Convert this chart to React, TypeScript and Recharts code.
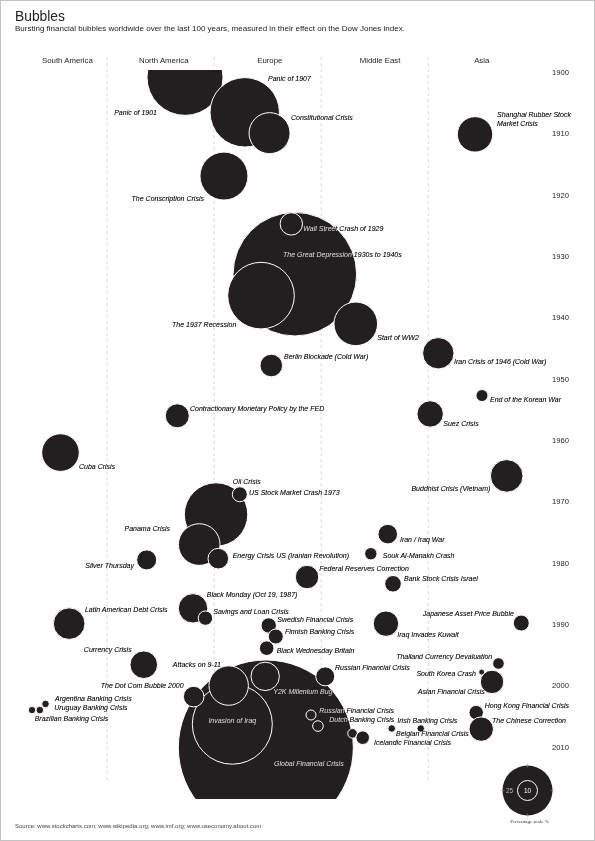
import React from "react";
import { ScatterChart, Scatter, XAxis, YAxis, ReferenceLine, CartesianGrid } from "recharts";

// regions along the top, as tick positions on the x scale (1 unit = one region column)
const regions = ["South America", "North America", "Europe", "Middle East", "Asia"];
const regionTicks = [0.63, 1.53, 2.52, 3.55, 4.5];
const regionBorders = [1, 2, 3, 4];

const yearTicks = [1900, 1910, 1920, 1930, 1940, 1950, 1960, 1970, 1980, 1990, 2000, 2010];

const crises = [
  "Panic of 1901", "Panic of 1907", "Constitutional Crisis", "Shanghai Rubber Stock\nMarket Crisis",
  "The Conscription Crisis", "The Great Depression 1930s to 1940s", "Wall Street Crash of 1929",
  "The 1937 Recession", "Start of WW2", "Berlin Blockade (Cold War)", "Iran Crisis of 1946 (Cold War)",
  "End of the Korean War", "Suez Crisis", "Contractionary Monetary Policy by the FED", "Cuba Crisis",
  "Buddhist Crisis (Vietnam)", "Oil Crisis", "US Stock Market Crash 1973", "Panama Crisis",
  "Energy Crisis US (Iranian Revolution)", "Silver Thursday", "Iran / Iraq War", "Souk Al-Manakh Crash",
  "Federal Reserves Correction", "Bank Stock Crisis Israel", "Black Monday (Oct 19, 1987)",
  "Savings and Loan Crisis", "Latin American Debt Crisis", "Swedish Financial Crisis",
  "Finnish Banking Crisis", "Black Wednesday Britain", "Iraq Invades Kuwait", "Japanese Asset Price Bubble",
  "Currency Crisis", "Thailand Currency Devaluation", "South Korea Crash", "Asian Financial Crisis",
  "Global Financial Crisis", "Invasion of Iraq", "Attacks on 9-11", "Y2K Millenium Bug",
  "The Dot Com Bubble 2000", "Russian Financial Crisis", "Russian Financial Crisis", "Dutch Banking Crisis",
  "", "Icelandic Financial Crisis", "Belgian Financial Crisis", "Irish Banking Crisis",
  "Hong Kong Financial Crisis", "The Chinese Correction", "Argentina Banking Crisis",
  "Uruguay Banking Crisis", "Brazilian Banking Crisis",
];

const region = [
  1.728, 2.286, 2.518, 4.437, 2.092, 2.754, 2.721, 2.438, 3.323, 2.534, 4.094, 4.502, 4.018, 1.656,
  0.565, 4.733, 2.018, 2.24, 1.861, 2.039, 1.37, 3.622, 3.464, 2.868, 3.671, 1.803, 1.919, 0.646,
  2.51, 2.576, 2.491, 3.605, 4.869, 1.343, 4.656, 4.499, 4.596, 2.483, 2.17, 2.136, 2.477, 1.809,
  3.038, 2.905, 2.97, 3.293, 3.388, 3.659, 3.93, 4.448, 4.495, 0.425, 0.372, 0.299,
];

const years = [
  1900.8, 1906.5, 1909.9, 1910.1, 1916.9, 1932.9, 1924.7, 1936.4, 1941.0, 1947.8, 1945.8, 1952.7,
  1955.7, 1956.0, 1962.0, 1965.8, 1972.1, 1968.8, 1977.0, 1979.3, 1979.5, 1975.3, 1978.5, 1982.3,
  1983.4, 1987.4, 1989.0, 1989.9, 1990.2, 1992.0, 1993.9, 1989.9, 1989.8, 1996.6, 1996.4, 1997.8,
  1999.4, 2010.1, 2006.3, 2000.0, 1998.5, 2001.8, 1998.5, 2004.8, 2006.6, 2007.8, 2008.5, 2007.0,
  2007.0, 2004.4, 2007.1, 2003.0, 2004.0, 2004.0,
];

// effect on the Dow Jones, %
const impact = [
  38, 34.7, 20.5, 17.7, 24, 61.8, 11.2, 33.3, 21.8, 11.3, 15.7, 6, 13.2, 12, 18.8, 16.3, 31.7, 7.5,
  20.8, 10.3, 10, 9.8, 6.2, 11.7, 8.3, 14.7, 7.2, 15.8, 7.7, 7.5, 7.3, 12.7, 8, 13.8, 5.8, 3, 11.7,
  87.5, 40, 19.7, 14.2, 10.3, 9.5, 5, 5.3, 4.8, 6.8, 3.8, 3.8, 7.2, 12.2, 3.8, 3.8, 3.7,
];

const scaleValues = [25, 10];

// label placement relative to bubble centre: dx, dy, anchor
const labelSpots: [number, number, string][] = [
  [-28, 38, "end"], [23.3, -31.4, "start"], [21.4, -12.8, "start"], [22, -17.3, "start"],
  [-20, 25, "end"], [-11.8, -16.7, "start"], [12, 7.2, "start"], [-24.7, 31.3, "end"],
  [21.5, 16.3, "start"], [12.7, -6.2, "start"], [15.7, 10.7, "start"], [8, 6.7, "start"],
  [13.1, 12.3, "start"], [12.7, -4.5, "start"], [18.5, 16.5, "start"], [-16.4, 15.3, "end"],
  [16.7, -30.2, "start"], [9.2, 0.7, "start"], [-29.2, -13.5, "end"], [14.4, -0.3, "start"],
  [-12.7, 8.3, "end"], [12.2, 8.2, "start"], [11.9, 4.7, "start"], [12.3, -6, "start"],
  [11, -2.7, "start"], [13.7, -11, "start"], [7.8, -3.7, "start"], [15.8, -11.5, "start"],
  [8.6, -3.5, "start"], [9.2, -2.2, "start"], [10, 5.2, "start"], [11.3, 13.5, "start"],
  [-7.3, -7, "end"], [-12.1, -12.8, "end"], [-6.2, -4.5, "end"], [-5.7, 4.2, "end"],
  [-7.3, 12.3, "end"], [8.2, 18.5, "start"], [0, -1, "middle"], [-7.7, -18.5, "end"],
  [8.1, 18, "start"], [-10, -8.2, "end"], [9.8, -6.8, "start"], [8.3, -2, "start"],
  [11.3, -4.5, "start"], [0, 0, "start"], [11.3, 7.5, "start"], [4.3, 7.7, "start"],
  [-23.4, -5, "start"], [8.5, -4.2, "start"], [10.8, -6.2, "start"], [9.5, -3.3, "start"],
  [14.5, -0.2, "start"], [2.7, 11.3, "start"],
];

const bubbles = crises.map((name, i) => ({
  id: i,
  name,
  region: region[i],
  year: years[i],
  impact: impact[i],
}));

const W = 595;
const H = 841;
const M = { top: 50, right: 0, bottom: 42, left: 0 };
const X_AXIS_H = 20;
const Y_AXIS_W = 49;
const PX_PER_PCT = 1;
const INK = "#231f20";
const FONT = "'Liberation Sans', Arial, Helvetica, sans-serif";

const Bubble = (props: any) => {
  const { cx, cy, payload } = props;
  return (
    <circle
      cx={cx}
      cy={cy}
      r={payload.impact * PX_PER_PCT}
      fill={INK}
      stroke="#fff"
      strokeWidth={1}
      clipPath="url(#plotClip)"
    />
  );
};

const BubbleLabel = (props: any) => {
  const { cx, cy, payload } = props;
  const spot = labelSpots[payload.id];
  if (!payload.name || !spot) return <g />;
  const lines = String(payload.name).split("\n");
  const x = cx + spot[0];
  return (
    <text
      x={x}
      y={cy + spot[1]}
      textAnchor={spot[2] as any}
      fontSize={7}
      fontStyle="italic"
      fontFamily={FONT}
      fill="#fff"
      style={{ mixBlendMode: "difference" }}
    >
      {lines.map((l, i) => (
        <tspan key={i} x={x} dy={i ? 8.6 : 0}>
          {l}
        </tspan>
      ))}
    </text>
  );
};

export default function App() {
  const plotTop = M.top + X_AXIS_H;
  const plotBottom = H - M.bottom;
  const plotRight = W - M.right - Y_AXIS_W;
  const legendR = scaleValues.map((v) => v * PX_PER_PCT);
  const lx = 527.5;
  const ly = 790.5;

  return (
    <div
      style={{
        position: "relative",
        width: W,
        height: H,
        background: "#fff",
        boxSizing: "border-box",
        border: "1px solid #c4c4c4",
        overflow: "hidden",
      }}
    >
      <style>{"body{margin:0}"}</style>
      <svg width={0} height={0} style={{ position: "absolute" }}>
        <defs>
          <clipPath id="plotClip" clipPathUnits="userSpaceOnUse">
            <rect x={M.left} y={plotTop} width={plotRight - M.left} height={plotBottom - plotTop} />
          </clipPath>
        </defs>
      </svg>
      <div style={{ position: "absolute", left: -1, top: -1 }}>
        <ScatterChart width={W} height={H} margin={M}>
          <CartesianGrid horizontal={false} vertical={false} fill="#fff" />
          <XAxis
            xAxisId={0}
            type="number"
            dataKey="region"
            orientation="top"
            domain={[0, 5.1]}
            ticks={regionTicks}
            interval={0}
            height={X_AXIS_H}
            tickLine={false}
            axisLine={false}
            tickMargin={1}
            tickFormatter={(v: number) => regions[regionTicks.indexOf(v)] ?? ""}
            tick={{ fontSize: 7.8, fill: "#222", fontFamily: FONT }}
          />
          <YAxis
            yAxisId={0}
            type="number"
            dataKey="year"
            orientation="right"
            reversed
            domain={[1899.6, 2018.5]}
            ticks={yearTicks}
            interval={0}
            width={Y_AXIS_W}
            tickLine={false}
            axisLine={false}
            tickMargin={0}
            tick={{ fontSize: 7.6, fill: "#222", fontFamily: FONT }}
          />
          {regionBorders.map((b) => (
            <ReferenceLine
              key={b}
              segment={[
                { x: b, y: 1897.5 },
                { x: b, y: 2015.9 },
              ]}
              ifOverflow="visible"
              stroke="#c8c8c8"
              strokeWidth={0.7}
              strokeDasharray="3 3"
            />
          ))}
          <Scatter data={bubbles} shape={Bubble} isAnimationActive={false} />
          <Scatter data={bubbles} shape={BubbleLabel} isAnimationActive={false} />
        </ScatterChart>
      </div>
      <svg
        width={W}
        height={H}
        style={{ position: "absolute", left: -1, top: -1, pointerEvents: "none" }}
        fontFamily={FONT}
      >
        <text x={15} y={20.5} fontSize={13.8} fill="#222">
          Bubbles
        </text>
        <text x={15} y={30.8} fontSize={8} fill="#222">
          Bursting financial bubbles worldwide over the last 100 years, measured in their effect on the Dow Jones index.
        </text>
        <text x={15} y={827.5} fontSize={6} fill="#444">
          Source: www.stockcharts.com; www.wikipedia.org; www.imf.org; www.useconomy.about.com
        </text>
        {/* percentage scale */}
        <circle cx={lx} cy={ly} r={legendR[0]} fill={INK} />
        <line x1={lx} x2={lx} y1={ly - legendR[0] - 2} y2={ly - legendR[0] + 2} stroke="#999" strokeWidth={0.5} />
        <line x1={lx} x2={lx} y1={ly + legendR[0] - 2} y2={ly + legendR[0] + 2} stroke="#999" strokeWidth={0.5} />
        <line x1={lx - legendR[0] - 2} x2={lx - legendR[0] + 2} y1={ly} y2={ly} stroke="#999" strokeWidth={0.5} />
        <line x1={lx + legendR[0] - 2} x2={lx + legendR[0] + 2} y1={ly} y2={ly} stroke="#999" strokeWidth={0.5} />
        <circle cx={lx} cy={ly} r={legendR[1]} fill={INK} stroke="#fff" strokeWidth={1} />
        <text x={lx - 18} y={ly + 2.3} fontSize={6.4} fill="#bbb" textAnchor="middle">
          {scaleValues[0]}
        </text>
        <text x={lx} y={ly + 2.3} fontSize={6.4} fill="#fff" textAnchor="middle">
          {scaleValues[1]}
        </text>
        <text x={lx + 2} y={822.5} fontSize={5} fill="#333" textAnchor="middle" fontFamily="'Liberation Serif', serif">
          Percentage scale %
        </text>
      </svg>
    </div>
  );
}
